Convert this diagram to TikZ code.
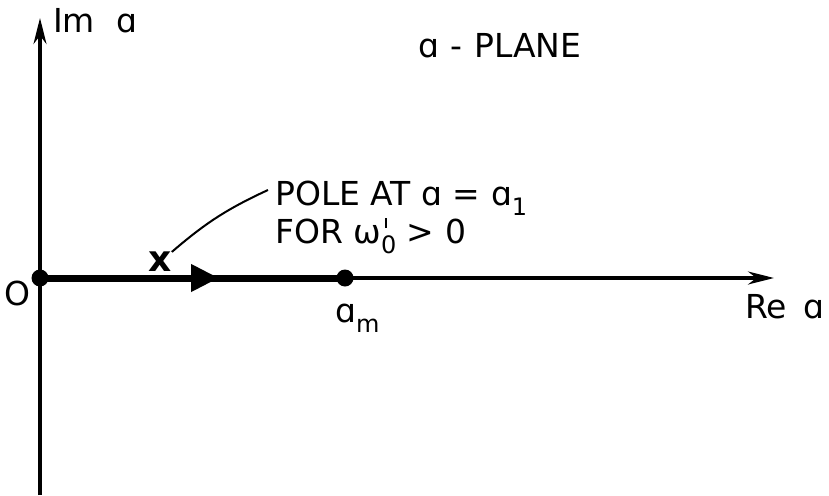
\documentclass[tikz,border=0pt]{standalone}
\usepackage{fontspec}
\setmainfont{DejaVu Sans}
\usetikzlibrary{arrows.meta}
\newcommand{\lsub}[1]{\raisebox{-0.33em}{\fontsize{24}{24}\selectfont #1}}
\newcommand{\lprime}{\rule{1.8pt}{0.32em}}
\newcommand{\lsupsub}[1]{\rlap{\hspace{0.12em}\raisebox{0.45em}{\lprime}}\raisebox{-0.33em}{\fontsize{24}{24}\selectfont #1}}
\begin{document}
\begin{tikzpicture}[x=1pt,y=-1pt,
  lbl/.style={inner sep=0pt, font=\fontsize{33}{40}\selectfont},
  axis/.style={line width=3.4pt},
  heavy/.style={line width=7pt},
  dot/.style={circle, fill=black, inner sep=0pt, minimum size=17pt},
  axtip/.style={-{Stealth[length=26pt,width=13pt]}}
  ]
\useasboundingbox (0,0) rectangle (829,495);
\fill[white] (0,0) rectangle (829,495);
\coordinate (ytop) at (40,18);
\coordinate (ybot) at (40,495);
\coordinate (xend) at (774,278);
\coordinate (mid) at (219,278);
\coordinate (midb) at (200,278);
\node[dot] (o) at (40,278) {};
\node[dot] (am) at (345,278) {};
\draw[axis,axtip] (ybot) -- (ytop);
\draw[axis,axtip] (o.center) -- (xend);
\draw[heavy,-{Triangle[length=28pt,width=26pt]}] (o.center) -- (mid);
\draw[heavy] (midb) -- (am.center);
% labels
\node[lbl, anchor=base west] (im) at (53,33) {Im\hspace{0.65em}ɑ};
\node[lbl, anchor=base west] (plane) at (418,58) {ɑ\hspace{0.35em}-\hspace{0.35em}PLANE};
\node[lbl, anchor=base west] (pole) at (275,205) {POLE AT ɑ = ɑ\lsub{1}};
\node[lbl, anchor=base west] (for) at (275,243) {FOR ω\lsupsub{0} > 0};
\node[lbl, anchor=base east] (olab) at (31,305) {O};
\node[lbl, anchor=base west] (amlab) at (335,322) {ɑ\lsub{m}};
\node[lbl, anchor=base west] (re) at (745,318) {Re\hspace{0.5em}ɑ};
\node[inner sep=0pt, font=\fontsize{36}{36}\selectfont\bfseries] (xm) at (160,262) {x};
\coordinate (lead) at (268,190);
\draw[line width=2pt] (xm.north east) to[bend left=8] (lead);
\end{tikzpicture}
\end{document}
